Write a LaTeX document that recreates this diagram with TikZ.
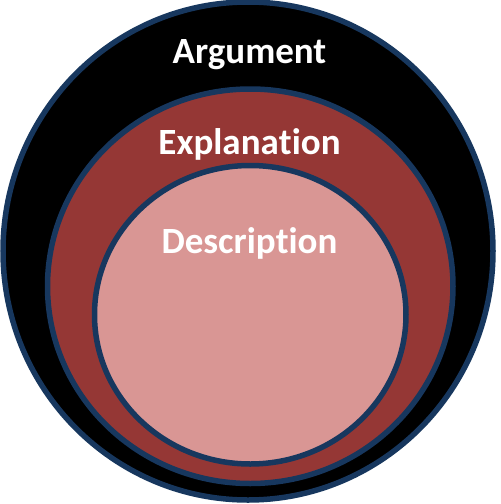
\documentclass[tikz,border=0pt]{standalone}
\usepackage{fontspec}
\setmainfont{Carlito}[Ligatures={NoCommon}]
\definecolor{ringline}{HTML}{17375E}
\definecolor{midred}{HTML}{953735}
\definecolor{innerpink}{HTML}{D99694}
\begin{document}
\begin{tikzpicture}[x=1pt,y=-1pt,
  ring/.style={draw=ringline,line width=5.5pt},
  lbl/.style={anchor=base,text=white,font=\bfseries\fontsize{37}{40}\selectfont,inner sep=0pt}]
\useasboundingbox (0,0) rectangle (501,504);
\path[ring,fill=black] (248,251) ellipse [x radius=245,y radius=249];
\path[ring,fill=midred] (250.25,286.25) ellipse [x radius=202.75,y radius=197.25];
\path[ring,fill=innerpink] (250.25,314.75) ellipse [x radius=155.75,y radius=149.25];
\node[lbl] (arg) at (249.5,63) {Argument};
\node[lbl] (expl) at (249.5,154) {Explana\kern0pt tion};
\node[lbl] (desc) at (249.5,253) {Descrip\kern0pt tion};
\end{tikzpicture}
\end{document}
